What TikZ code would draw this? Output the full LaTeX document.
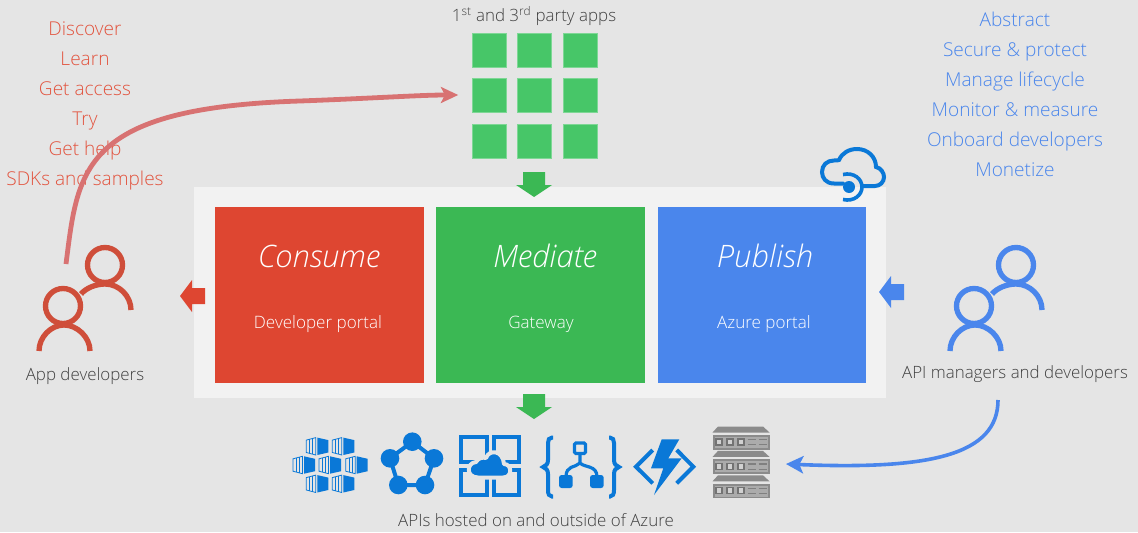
\documentclass[tikz,border=0pt]{standalone}
\usepackage{fontspec}
\setmainfont{Open Sans}[UprightFont=* Light,ItalicFont=* Light Italic]
\usetikzlibrary{arrows.meta,calc}
\definecolor{bggray}{HTML}{E5E5E5}
\definecolor{panelgray}{HTML}{F2F2F2}
\definecolor{consumered}{HTML}{DE4631}
\definecolor{mediategreen}{HTML}{3BB854}
\definecolor{publishblue}{HTML}{4A86EC}
\definecolor{cellgreen}{HTML}{47C668}
\definecolor{peoplered}{HTML}{CF4E3A}
\definecolor{curvered}{HTML}{D87272}
\definecolor{listred}{HTML}{E2543F}
\definecolor{azureblue}{HTML}{0A78D7}
\definecolor{labelgray}{HTML}{404040}
\definecolor{rackdark}{HTML}{8B8B8B}
\definecolor{racklight}{HTML}{ABABAB}
\tikzset{
  stagebox/.style={fill=#1,minimum width=156.5pt,minimum height=132pt,inner sep=0pt},
  stagetitle/.style={anchor=base,text=white,font=\fontsize{23.2}{26}\selectfont\itshape},
  stagesub/.style={anchor=base,text=white,font=\fontsize{12.8}{15}\selectfont},
  graylabel/.style={anchor=base,text=labelgray,font=\fontsize{12.7}{15}\selectfont},
  listitem/.style={anchor=base,font=\fontsize{14.3}{17}\selectfont},
  appcell/.style={fill=cellgreen,draw=cellgreen!70!white,line width=.4pt,minimum width=25.5pt,minimum height=25.5pt,inner sep=0pt},
  pics/people/.style={code={
    \draw[#1,line width=4pt] (105,265) circle (17.5);
    \draw[#1,line width=4pt] (81,294) .. controls (86,288) and (96,284) .. (105,284) .. controls (119,284) and (131,296) .. (131,310);
    \draw[#1,line width=4pt] (63,306) circle (17.5);
    \draw[#1,line width=4pt] (39,351) .. controls (39,337) and (51,325) .. (64,325) .. controls (77,325) and (90,337) .. (90,351);
  }},
  pics/downmark/.style={code={
    \fill[#1] (-11,0) -- (11,0) -- (11,13) -- (18,13) -- (0,25) -- (-18,13) -- (-11,13) -- cycle;
  }},
  pics/sidemark/.style={code={
    \fill[#1] (25,-8) -- (12,-8) -- (12,-16) -- (0,0) -- (12,16) -- (12,8) -- (25,8) -- cycle;
  }},
  pics/container/.style={code={
    \fill[azureblue] (0,-8.7) -- (11,-6.2) -- (11,6.2) -- (0,8.7) -- cycle;
    \draw[azureblue,line width=.6pt] (-11,-6.2) -- (-1.5,-8.7) -- (-1.5,8.7) -- (-11,6.2) -- cycle;
    \draw[azureblue,line width=.6pt] (-7.8,-7) -- (-7.8,7) (-4.6,-7.9) -- (-4.6,7.9);
  }},
  pics/rack/.style={code={
    \fill[rackdark] (5.5,0) -- (50.5,0) -- (57,6) -- (0,6) -- cycle;
    \fill[rackdark] (0,8.5) rectangle (57,23);
    \fill[racklight] (2,10.5) rectangle (55,21.5);
    \foreach \x in {6.5,17.5,28.5} {
      \draw[black!55,fill=black!18,line width=.8pt] (\x-3,12.5) rectangle (\x+3,18.5);
    }
    \foreach \x in {35,46} {
      \draw[black!50,line width=.9pt] (\x,13) -- (\x+8,13) (\x,18.3) -- (\x+8,18.3);
    }
  }},
}
\begin{document}
\begin{tikzpicture}[x=0.75pt,y=-0.75pt]
\fill[bggray] (0,0) rectangle (1138,532);
\useasboundingbox (0,0) rectangle (1138,532);

\fill[panelgray] (194,187) rectangle (886,398);
\node[stagebox=consumered] (consume) at (319.5,295) {};
\node[stagebox=mediategreen] (mediate) at (540.5,295) {};
\node[stagebox=publishblue] (publish) at (762,295) {};
\node[stagetitle] (consumetitle) at (319,267) {Consume};
\node[stagetitle] (mediatetitle) at (545,267) {Mediate};
\node[stagetitle] (publishtitle) at (765,267) {Publish};
\node[stagesub] (consumesub) at (318,328) {Developer portal};
\node[stagesub] (mediatesub) at (541,328) {Gateway};
\node[stagesub] (publishsub) at (764,328) {Azure portal};

% apps grid
\foreach \row/\y in {1/50,2/95,3/141} {
  \foreach \col/\x in {1/489.5,2/534.5,3/580.5} {
    \node[appcell] (cell\row\col) at (\x,\y) {};
  }
}
\node[graylabel] (appslabel) at (534,21) {1\textsuperscript{st} and 3\textsuperscript{rd} party apps};

\pic at (534,172) {downmark=mediategreen};
\pic at (534,394) {downmark=mediategreen};
\pic at (180,296) {sidemark=consumered};
\pic at (879,292) {sidemark=publishblue};

% people
\pic at (0,0) {people=peoplered};
\pic at (911,0) {people=publishblue};
\node[graylabel] (devlabel) at (85,380) {App developers};
\node[graylabel] (managerlabel) at (1015,378) {API managers and developers};

\foreach \i/\txt in {0/Discover,1/Learn,2/Get access,3/Try,4/Get help,5/SDKs and samples} {
  \node[listitem,text=listred] (dev\i) at (85,35.5+30*\i) {\txt};
}
\foreach \i/\txt in {0/Abstract,1/Secure \& protect,2/Manage lifecycle,3/Monitor \& measure,4/Onboard developers,5/Monetize} {
  \node[listitem,text=publishblue] (mgr\i) at (1015,26.5+30*\i) {\txt};
}

% curves
\coordinate (devstart) at (66,264);
\coordinate (mgrstart) at (998,400);
\coordinate (hosted) at (786,464);
\draw[curvered,line width=3.6pt,-{Stealth[length=13pt,width=12pt,inset=3pt]},shorten >=10.5pt]
  (devstart) .. controls (78,170) and (80,108) .. (300,101) .. controls (380,98) and (420,95) .. (cell21.west);
\draw[publishblue,line width=2.7pt,-{Stealth[length=13pt,width=13pt,inset=3pt]}]
  (mgrstart) .. controls (998,455) and (930,470) .. (hosted);

% gateway cloud
\draw[azureblue,line width=3pt,line cap=round]
  (843,183.5) -- (834,183.5) .. controls (826,183.5) and (822,178) .. (822,172)
  .. controls (822,165) and (827,160.5) .. (834,160.5) .. controls (836,160.5) and (838,160.5) .. (839,160)
  .. controls (842,153) and (849,149) .. (857,149) .. controls (868,149) and (876,157) .. (876,167)
  .. controls (881,168) and (884,173) .. (884,177) .. controls (884,182) and (880,186) .. (875,186) -- (862,186);
\fill[azureblue] (849,187) circle (6);
\draw[azureblue,line width=2.7pt] (843,174.5) .. controls (854,172) and (862,179) .. (862,187) .. controls (862,195) and (854,202) .. (843,199.5);

% hosted icons
\foreach \x/\y in {317.3/446.3,343.3/446.3,304/465,330/465,356.7/465,317.3/483.8,343.3/483.8} {
  \pic at (\x,\y) {container};
}
\draw[azureblue,line width=3pt] (412.3,441.7) -- (434,458.3) -- (425,485) -- (398.3,485) -- (390,458.3) -- cycle;
\foreach \x/\y in {412.3/441.7,434/458.3,425/485,398.3/485,390/458.3} {
  \fill[azureblue] (\x,\y) circle (9.3);
}
\foreach \x/\y in {461/437,493.5/437,461/470,493.5/470} {
  \draw[azureblue,line width=3pt] (\x,\y) rectangle (\x+25.5,\y+25);
}
\draw[bggray,fill=azureblue,line width=3pt,line join=round]
  (478,477.5) .. controls (466,477.5) and (466,463) .. (476,462) .. controls (478,458) and (483,457) .. (486,458)
  .. controls (489,449) and (503,450) .. (504,464) .. controls (512,464) and (513,477.5) .. (503,477.5) -- cycle;
\draw[azureblue,line width=3pt] (553,437.5) -- (552,437.5) .. controls (549,437.5) and (548,440) .. (548,443) -- (548,460) .. controls (548,464) and (546,466) .. (543,467) .. controls (546,468) and (548,470) .. (548,474) -- (548,490) .. controls (548,494) and (549,496.5) .. (552,496.5) -- (553,496.5);
\draw[azureblue,line width=3pt] (609,437.5) -- (610,437.5) .. controls (613,437.5) and (614,440) .. (614,443) -- (614,460) .. controls (614,464) and (616,466) .. (619,467) .. controls (616,468) and (614,470) .. (614,474) -- (614,490) .. controls (614,494) and (613,496.5) .. (610,496.5) -- (609,496.5);
\draw[azureblue,line width=2.4pt] (580,454) -- (580,463) (566,477) .. controls (566,465) and (575,468) .. (580,463) .. controls (585,468) and (597,465) .. (597,477);
\draw[azureblue,line width=2.4pt,rounded corners=1pt] (574.5,443) rectangle (585.5,453.5);
\fill[azureblue,rounded corners=2pt] (559,475) rectangle (572.7,488);
\fill[azureblue,rounded corners=2pt] (590,475) rectangle (603.7,488);
\draw[azureblue,line width=3pt] (652.7,450) -- (636,466.7) -- (652.7,483.3);
\draw[azureblue,line width=3pt] (676.7,450) -- (693.3,466.7) -- (676.7,483.3);
\fill[azureblue] (661.7,439.3) -- (679.3,439.3) -- (668.3,458.3) -- (681.7,458.3) -- (654,495) -- (663.3,468.3) -- (651,468.3) -- cycle;
\foreach \y in {426.5,450.9,475.3} {
  \pic at (712.5,\y) {rack};
}
\node[graylabel] (hostedlabel) at (536,526) {APIs hosted on and outside of Azure};
\end{tikzpicture}
\end{document}
